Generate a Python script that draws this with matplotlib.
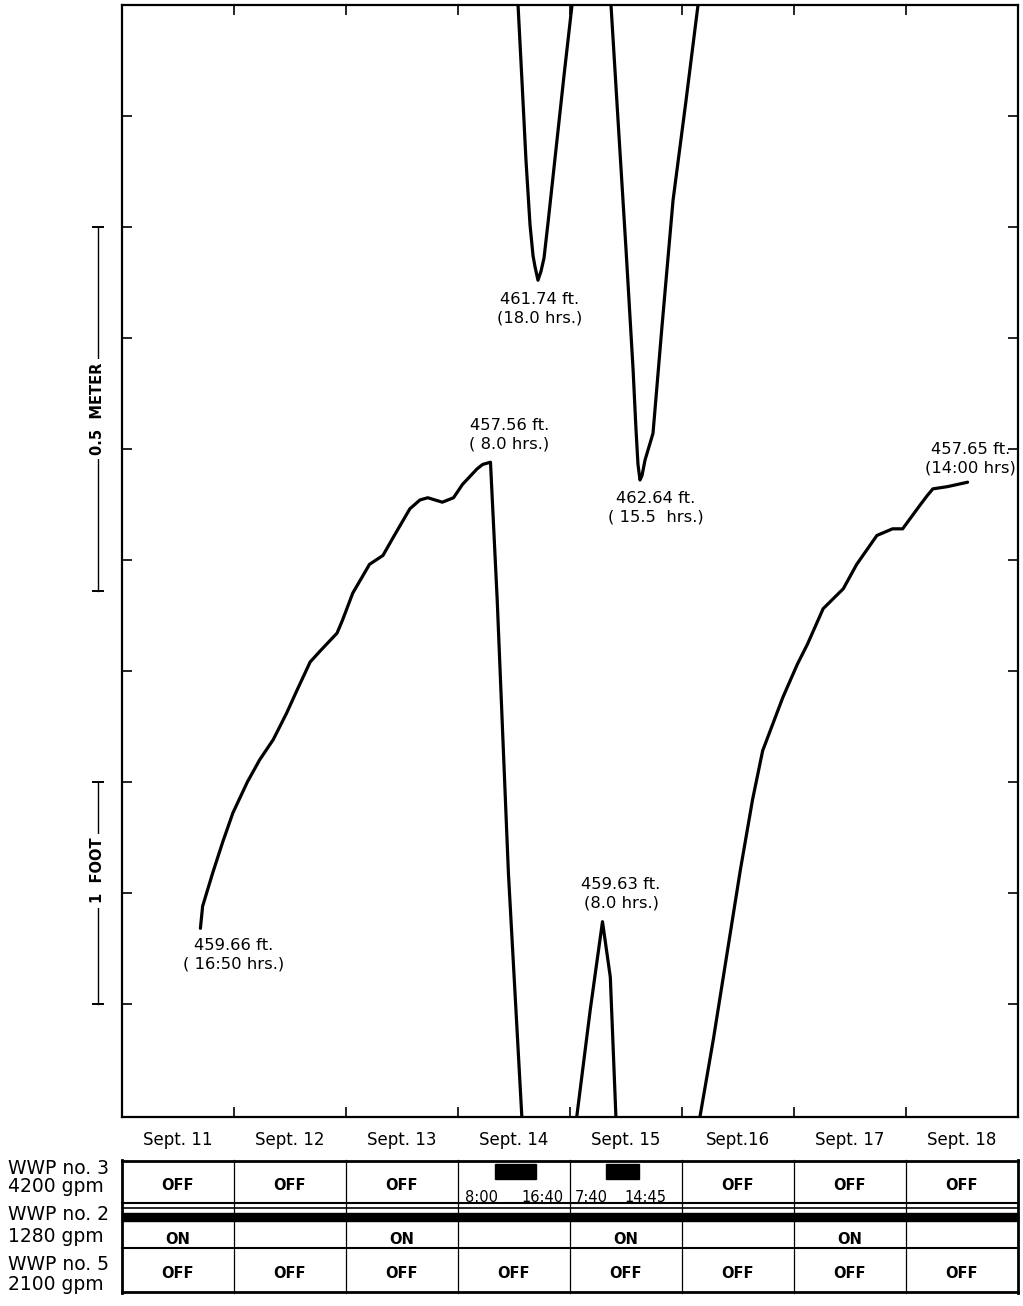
import matplotlib
matplotlib.use("Agg")
import matplotlib.pyplot as plt
import matplotlib.transforms as mtransforms
from matplotlib.patches import Rectangle
import numpy as np

plt.rcParams['font.family'] = ['DejaVu Sans']

# ---------------- data ----------------
day_starts = [11, 12, 13, 14, 15, 16, 17, 18]
day_labels = ["Sept. 11", "Sept. 12", "Sept. 13", "Sept. 14", "Sept. 15",
              "Sept.16", "Sept. 17", "Sept. 18"]

# Water-level record: time (decimal day of September) and depth to water (ft)
# Recorder chart spans 5 ft; wrapped segments are drawn shifted by the span.
RECORDER_SPAN = 5.0

seg_a_t = [11.70, 11.72, 11.81, 11.90, 11.99, 12.12, 12.23, 12.35, 12.47, 12.56,
           12.68, 12.77, 12.92, 12.97, 13.06, 13.21, 13.33, 13.42, 13.57, 13.66,
           13.73, 13.86, 13.96, 14.04, 14.17, 14.22, 14.29, 14.35, 14.45, 14.57]
seg_a_d = [459.66, 459.56, 459.41, 459.27, 459.14, 459.00, 458.90, 458.81, 458.69, 458.59,
           458.46, 458.41, 458.33, 458.27, 458.15, 458.02, 457.98, 457.90, 457.77, 457.73,
           457.72, 457.74, 457.72, 457.66, 457.59, 457.57, 457.56, 458.18, 459.41, 460.51]

seg_b_t = [14.536, 14.571, 14.607, 14.643, 14.670, 14.688, 14.714, 14.741, 14.768, 14.804,
           14.875, 14.946, 15.018]
seg_b_d = [460.50, 460.84, 461.20, 461.49, 461.63, 461.68, 461.74, 461.70, 461.64, 461.48,
           461.15, 460.82, 460.50]

seg_c_t = [15.06, 15.18, 15.29, 15.36, 15.41]
seg_c_d = [460.51, 460.03, 459.63, 459.88, 460.51]

seg_d_t = [15.366, 15.429, 15.500, 15.563, 15.589, 15.607, 15.625, 15.643, 15.670, 15.741,
           15.821, 15.920, 16.036, 16.143]
seg_d_d = [460.50, 461.02, 461.60, 462.14, 462.41, 462.57, 462.64, 462.62, 462.55, 462.43,
           461.95, 461.38, 460.93, 460.50]

seg_e_t = [16.16, 16.28, 16.40, 16.52, 16.63, 16.72, 16.90, 17.03, 17.12, 17.26,
           17.44, 17.56, 17.74, 17.88, 17.97, 18.13, 18.19, 18.24, 18.37, 18.55]
seg_e_d = [460.51, 460.16, 459.78, 459.40, 459.08, 458.86, 458.62, 458.47, 458.38, 458.22,
           458.13, 458.02, 457.89, 457.86, 457.86, 457.75, 457.71, 457.68, 457.67, 457.65]

segments = [(seg_a_t, seg_a_d, 0), (seg_b_t, seg_b_d, 1), (seg_c_t, seg_c_d, 0),
            (seg_d_t, seg_d_d, 1), (seg_e_t, seg_e_d, 0)]

# annotated extremes: (time, depth, wraps, text)
ann_t = [11.70, 14.29, 14.714, 15.625, 15.29, 18.55]
ann_d = [459.66, 457.56, 461.74, 462.64, 459.63, 457.65]
ann_wrap = [0, 0, 1, 1, 0, 0]
ann_text = ["459.66 ft.\n( 16:50 hrs.)", "457.56 ft.\n( 8.0 hrs.)", "461.74 ft.\n(18.0 hrs.)",
            "462.64 ft.\n( 15.5  hrs.)", "459.63 ft.\n(8.0 hrs.)", "457.65 ft.\n(14:00 hrs)"]

# Pump schedules
pump3_on = [(14 + 8 / 24, 14 + (16 + 40 / 60) / 24), (15 + (7 + 40 / 60) / 24, 15 + (14 + 45 / 60) / 24)]
pump3_times = [("8:00", "16:40"), ("7:40", "14:45")]
pump3_status = ["OFF", "OFF", "OFF", "", "", "OFF", "OFF", "OFF"]
pump2_status = ["ON", "", "ON", "", "ON", "", "ON", ""]
pump5_status = ["OFF", "OFF", "OFF", "OFF", "OFF", "OFF", "OFF", "OFF"]
row_labels = [("WWP no. 3", "4200 gpm"), ("WWP no. 2", "1280 gpm"), ("WWP no. 5", "2100 gpm")]

METER_IN_FT = 0.5 / 0.3048

# ---------------- figure ----------------
W, H = 1023, 1306
fig = plt.figure(figsize=(W / 100, H / 100), dpi=100)
ax = fig.add_axes([122 / W, 1 - 1117 / H, 896 / W, 1112 / H])
ax.set_xlim(11, 19)
ax.set_ylim(460.51, 455.50)

for t, d, w in segments:
    ax.plot(t, np.array(d) - RECORDER_SPAN * w, color='black', lw=2.3,
            solid_joinstyle='round', solid_capstyle='round')

offsets = [(33, -10, 'center', 'top'), (19, 11, 'center', 'bottom'), (2, -12, 'center', 'top'),
           (16, -11, 'center', 'top'), (-21, 11, 'left', 'bottom'), (48, 7, 'right', 'bottom')]
for t, d, w, txt, (dx, dy, ha, va) in zip(ann_t, ann_d, ann_wrap, ann_text, offsets):
    ax.annotate(txt, xy=(t, d - RECORDER_SPAN * w), xytext=(dx, dy), textcoords='offset pixels',
                ha=ha, va=va, fontsize=11.8, linespacing=1.3, multialignment='center')

ax.set_xticks(range(11, 20))
ax.set_yticks(np.arange(456.0, 460.01, 0.5))
ax.tick_params(direction='in', length=7, width=1.2, top=True, right=True,
               labelbottom=False, labelleft=False)
for s in ax.spines.values():
    s.set_linewidth(1.6)

# scale bars
trans = mtransforms.blended_transform_factory(ax.transAxes, ax.transData)
xb = -24 / 896
cap = 5 / 896
for y0, y1, lab, ymid in [(456.5, 456.5 + METER_IN_FT, "0.5  METER", 456.5 + METER_IN_FT / 2),
                          (459.0, 460.0, "1  FOOT", 459.4)]:
    ax.plot([xb, xb], [y0, y1], transform=trans, clip_on=False, color='black', lw=1.0)
    for yy in (y0, y1):
        ax.plot([xb - cap, xb + cap], [yy, yy], transform=trans, clip_on=False, color='black', lw=1.4)
    ax.text(xb, ymid, lab, transform=trans, rotation=90, ha='center', va='center', fontsize=10.5,
            fontweight='bold', bbox=dict(fc='white', ec='none', pad=3))

# day labels
tday = mtransforms.blended_transform_factory(ax.transData, ax.transAxes)
for d, lab in zip(day_starts, day_labels):
    ax.text(d + 0.5, -0.0207, lab, transform=tday, ha='center', va='center', fontsize=12)

# ---------------- pump table ----------------
tax = fig.add_axes([122 / W, 1 - 1293 / H, 896 / W, 133 / H])
tax.set_xlim(11, 19)
tax.set_ylim(133, 0)
tax.axis('off')
for y, lw in [(0.8, 2.0), (43, 1.5), (47.5, 1.2), (88, 1.5), (132, 2.0)]:
    tax.plot([11, 19], [y, y], color='black', lw=lw, clip_on=False)
tax.add_patch(Rectangle((11, 53), 8, 8, color='black', clip_on=False))
tax.plot([11.004, 11.004], [0, 133], color='black', lw=2.0, clip_on=False)
tax.plot([18.996, 18.996], [0, 133], color='black', lw=2.0, clip_on=False)
for d in day_starts[1:]:
    tax.plot([d, d], [0, 133], color='black', lw=0.9, clip_on=False)

for d, s3, s2, s5 in zip(day_starts, pump3_status, pump2_status, pump5_status):
    tax.text(d + 0.5, 25, s3, ha='center', va='center', fontsize=10.5, fontweight='bold')
    tax.text(d + 0.5, 79, s2, ha='center', va='center', fontsize=10.5, fontweight='bold')
    tax.text(d + 0.5, 113, s5, ha='center', va='center', fontsize=10.5, fontweight='bold')

for (t0, t1), (l0, l1) in zip(pump3_on, pump3_times):
    tax.add_patch(Rectangle((t0, 4), t1 - t0, 15, color='black'))
    tax.text(t0 + 0.02, 37, l0, ha='right', va='center', fontsize=10.5)
    tax.text(t1 + 0.06, 37, l1, ha='center', va='center', fontsize=10.5)

for (l1, l2), y1, y2 in zip(row_labels, [1168, 1215, 1265], [1186, 1236, 1284]):
    fig.text(8 / W, 1 - y1 / H, l1, ha='left', va='center', fontsize=13.5)
    fig.text(8 / W, 1 - y2 / H, l2, ha='left', va='center', fontsize=13.5)

fig.savefig("out.png", dpi=100)
